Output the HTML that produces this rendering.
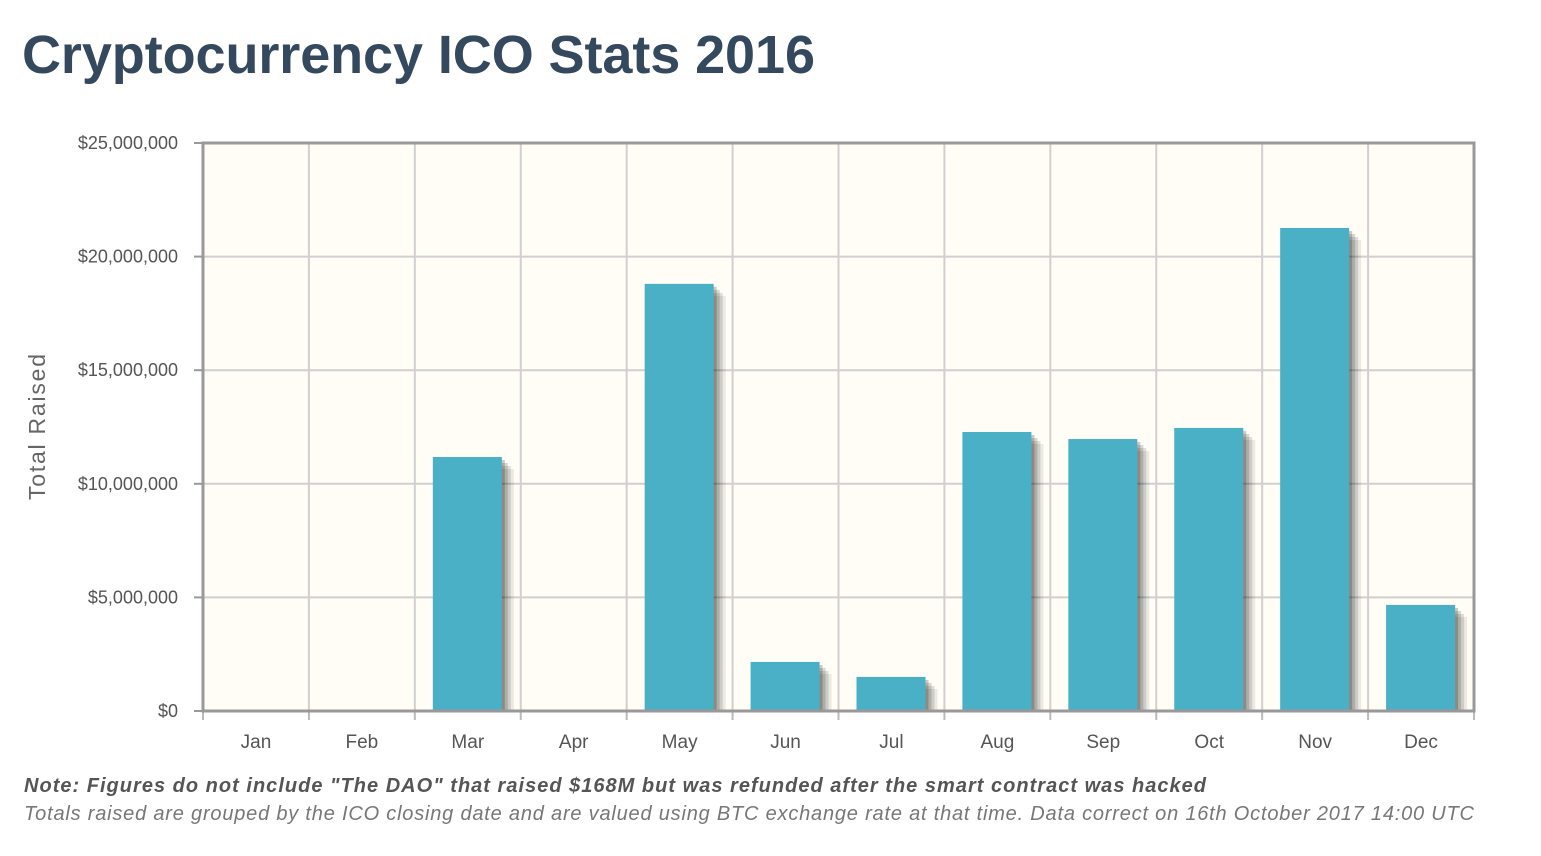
<!DOCTYPE html>
<html><head><meta charset="utf-8"><style>
body{margin:0;background:#fff;width:1541px;height:851px;overflow:hidden;font-family:"Liberation Sans",sans-serif}
</style></head><body>
<svg width="1541" height="851" xmlns="http://www.w3.org/2000/svg">
<text x="22" y="73" font-size="54" font-weight="bold" fill="#34495e" textLength="793">Cryptocurrency ICO Stats 2016</text>
<g id="plot"></g>
<text x="0" y="0" transform="translate(45,427) rotate(-90)" text-anchor="middle" font-size="23" fill="#666" textLength="146">Total Raised</text>
<text x="24" y="792" font-size="20" font-weight="bold" font-style="italic" fill="#555" textLength="1182">Note: Figures do not include "The DAO" that raised $168M but was refunded after the smart contract was hacked</text>
<text x="24" y="820" font-size="20" font-style="italic" fill="#777" textLength="1450">Totals raised are grouped by the ICO closing date and are valued using BTC exchange rate at that time. Data correct on 16th October 2017 14:00 UTC</text>
</svg>
<script>
const categories=["Jan","Feb","Mar","Apr","May","Jun","Jul","Aug","Sep","Oct","Nov","Dec"];
const values=[0,0,11180000,0,18800000,2160000,1500000,12280000,11970000,12460000,21260000,4670000];
const yTicks=[0,5000000,10000000,15000000,20000000,25000000];
const yTickLabels=["$0","$5,000,000","$10,000,000","$15,000,000","$20,000,000","$25,000,000"];
const L=203,R=1474,T=143,B=711,ymax=25000000;
const NS="http://www.w3.org/2000/svg";
const g=document.getElementById('plot');
const cw=(R-L)/categories.length;
const y=v=>B-(v/ymax)*(B-T);
const x=i=>L+i*cw;
function mk(tag,a){const e=document.createElementNS(NS,tag);for(const k in a)e.setAttribute(k,a[k]);g.appendChild(e);return e;}
let e=mk('rect',{x:L,y:T,width:R-L,height:B-T,fill:'#fffdf6'});


yTicks.forEach((t,i)=>{
 let l=mk('line',{x1:L,x2:R,y1:y(t),y2:y(t),stroke:'#d0d0d0','stroke-width':2});
 
 
 let tk=mk('line',{x1:L-9,x2:L,y1:y(t),y2:y(t),stroke:'#999','stroke-width':2});
 
 
 let tx=mk('text',{x:L-25,y:y(t)+6,'text-anchor':'end','font-size':18,fill:'#555'});
 tx.textContent=yTickLabels[i];
 
 
});
for(let i=1;i<categories.length;i++){
 let l=mk('line',{x1:x(i),x2:x(i),y1:T,y2:B,stroke:'#d0d0d0','stroke-width':2});
 
 
}
for(let i=0;i<=categories.length;i++){
 let tk=mk('line',{x1:x(i),x2:x(i),y1:B,y2:B+9,stroke:'#bbb','stroke-width':2});
 
 
}
categories.forEach((c,i)=>{
 const v=values[i];
 const bx=x(i)+18,bw=69;
 if(v>0){
  [[12,0.08],[9,0.12],[6,0.15],[3,0.2]].forEach(([o,op])=>{
   let s=mk('rect',{x:bx+o,y:y(v)+o,width:bw,height:B-y(v)-o,fill:'#000','fill-opacity':op});
   
   
  });
  let b=mk('rect',{x:bx,y:y(v),width:bw,height:B-y(v),fill:'#4ab0c5'});
  
  
 }
 let tx=mk('text',{x:x(i)+cw/2,y:748,'text-anchor':'middle','font-size':19,fill:'#555'});
 tx.textContent=c;
 
 
});
let f=mk('rect',{x:L,y:T,width:R-L,height:B-T,fill:'none',stroke:'#999','stroke-width':3});


</script>
</body></html>
